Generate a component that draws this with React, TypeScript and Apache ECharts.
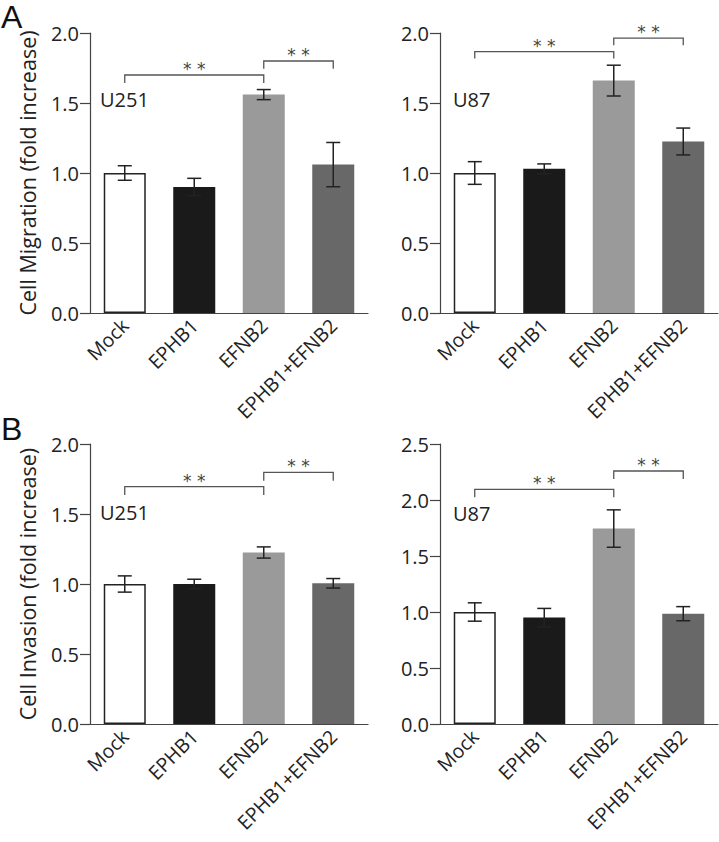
import React, { useEffect, useRef } from "react";
import * as echarts from "echarts";

const categories = ["Mock", "EPHB1", "EFNB2", "EPHB1+EFNB2"];

const migU251 = [1.0, 0.9, 1.56, 1.06];
const migU251Err = [0.052, 0.062, 0.036, 0.158];
const migU87 = [1.0, 1.03, 1.66, 1.225];
const migU87Err = [0.081, 0.035, 0.11, 0.096];
const invU251 = [1.0, 1.0, 1.225, 1.005];
const invU251Err = [0.058, 0.034, 0.04, 0.034];
const invU87 = [1.0, 0.95, 1.745, 0.985];
const invU87Err = [0.082, 0.082, 0.167, 0.063];

// [fromIndex, toIndex, level, drop]
const migU251Brackets = [[0, 2, 1.70, 0.057], [2, 3, 1.80, 0.055]];
const migU87Brackets = [[0, 2, 1.867, 0.05], [2, 3, 1.964, 0.052]];
const invU251Brackets = [[0, 2, 1.696, 0.06], [2, 3, 1.798, 0.06]];
const invU87Brackets = [[0, 2, 2.095, 0.07], [2, 3, 2.259, 0.072]];

const barColors = ["#ffffff", "#1a1a1a", "#9a9a9a", "#686868"];
const FONT = "Open Sans";

export default function App() {
  const ref = useRef<HTMLDivElement>(null);
  useEffect(() => {
    if (!ref.current) return;
    const chart = echarts.init(ref.current, null, { renderer: "svg" });

    const panels = [
      { left: 90, top: 33, max: 2.0, vals: migU251, err: migU251Err, br: migU251Brackets, name: "Cell Migration (fold increase)" },
      { left: 440, top: 33, max: 2.0, vals: migU87, err: migU87Err, br: migU87Brackets, name: "" },
      { left: 90, top: 444, max: 2.0, vals: invU251, err: invU251Err, br: invU251Brackets, name: "Cell Invasion (fold increase)" },
      { left: 440, top: 444, max: 2.5, vals: invU87, err: invU87Err, br: invU87Brackets, name: "" },
    ];

    const grid = panels.map((p) => ({ left: p.left, top: p.top, width: 278, height: 280 }));
    const xAxis = panels.map((p, i) => ({
      type: "category",
      gridIndex: i,
      data: categories,
      axisLine: { lineStyle: { color: "#444", width: 1.2 } },
      axisTick: { show: false },
      axisLabel: { rotate: 45, interval: 0, fontSize: 19.5, color: "#222", fontFamily: FONT, margin: 9 },
    }));
    const yAxis = panels.map((p, i) => ({
      type: "value",
      gridIndex: i,
      min: 0,
      max: p.max,
      interval: 0.5,
      name: p.name,
      nameLocation: "middle",
      nameGap: 52,
      nameTextStyle: { fontSize: 21.5, color: "#222", fontFamily: FONT },
      splitLine: { show: false },
      axisLine: { show: true, lineStyle: { color: "#444", width: 1.2 } },
      axisTick: { show: true, length: 10, lineStyle: { color: "#444", width: 1.2 } },
      axisLabel: { fontSize: 20, color: "#222", fontFamily: FONT, margin: 11, formatter: (v: number) => v.toFixed(1) },
    }));

    const series: any[] = [];
    panels.forEach((p, i) => {
      series.push({
        type: "bar",
        xAxisIndex: i,
        yAxisIndex: i,
        barWidth: 42,
        data: p.vals.map((v, k) => ({
          value: v,
          itemStyle: {
            color: barColors[k],
            borderColor: k === 0 ? "#222" : barColors[k],
            borderWidth: k === 0 ? 1.5 : 0,
          },
        })),
      });
      series.push({
        type: "custom",
        xAxisIndex: i,
        yAxisIndex: i,
        clip: false,
        z: 5,
        itemStyle: { color: "#222" },
        data: p.vals.map((v, k) => [k, v, p.err[k]]),
        encode: { x: 0, y: 1 },
        renderItem: (params: any, api: any) => {
          const x = api.value(0);
          const v = api.value(1);
          const e = api.value(2);
          const t = api.coord([x, v + e]);
          const b = api.coord([x, v - e]);
          const hw = 7;
          const st = { stroke: "#222", lineWidth: 1.5 };
          return {
            type: "group",
            children: [
              { type: "line", shape: { x1: t[0], y1: t[1], x2: b[0], y2: b[1] }, style: st },
              { type: "line", shape: { x1: t[0] - hw, y1: t[1], x2: t[0] + hw, y2: t[1] }, style: st },
              { type: "line", shape: { x1: b[0] - hw, y1: b[1], x2: b[0] + hw, y2: b[1] }, style: st },
            ],
          };
        },
      });
      series.push({
        type: "custom",
        xAxisIndex: i,
        yAxisIndex: i,
        clip: false,
        z: 5,
        itemStyle: { color: "#444" },
        data: p.br,
        encode: { x: [0, 1], y: 2 },
        renderItem: (params: any, api: any) => {
          const a = api.value(0);
          const b = api.value(1);
          const lv = api.value(2);
          const d = api.value(3);
          const p1 = api.coord([a, lv - d]);
          const p2 = api.coord([a, lv]);
          const p3 = api.coord([b, lv]);
          const p4 = api.coord([b, lv - d]);
          return {
            type: "group",
            children: [
              {
                type: "polyline",
                shape: { points: [p1, p2, p3, p4] },
                style: { stroke: "#555", lineWidth: 1.3, fill: "none" },
              },
              {
                type: "text",
                x: (p2[0] + p3[0]) / 2,
                y: p2[1] - 6,
                style: {
                  text: "* *",
                  fontSize: 17,
                  fontFamily: "DejaVu Sans",
                  fill: "#444",
                  textAlign: "center",
                  textVerticalAlign: "middle",
                },
              },
            ],
          };
        },
      });
    });

    chart.setOption({
      animation: false,
      backgroundColor: "#ffffff",
      grid,
      xAxis,
      yAxis,
      series,
      graphic: [
        { type: "text", left: 1, top: 1, style: { text: "A", fontSize: 32, fontFamily: "Liberation Sans", fill: "#111" } },
        { type: "text", left: 1, top: 413, style: { text: "B", fontSize: 32, fontFamily: "Liberation Sans", fill: "#111" } },
        { type: "text", left: 100, top: 89, style: { text: "U251", fontSize: 20, fontFamily: FONT, fill: "#222" } },
        { type: "text", left: 453, top: 89, style: { text: "U87", fontSize: 20, fontFamily: FONT, fill: "#222" } },
        { type: "text", left: 100, top: 502, style: { text: "U251", fontSize: 20, fontFamily: FONT, fill: "#222" } },
        { type: "text", left: 453, top: 503, style: { text: "U87", fontSize: 20, fontFamily: FONT, fill: "#222" } },
      ],
    });
    return () => chart.dispose();
  }, []);
  return <div ref={ref} style={{ position: "fixed", left: 0, top: 0, width: 719, height: 842 }} />;
}
